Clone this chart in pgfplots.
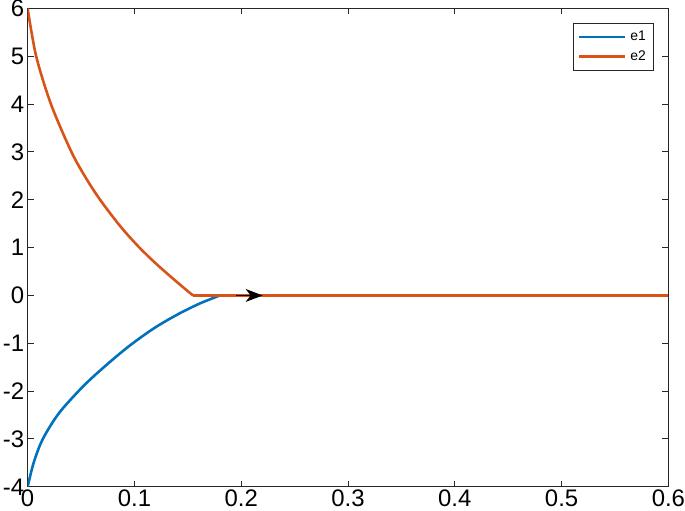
\documentclass[border=0pt]{standalone}
\usepackage{fontspec}
\setmainfont{Liberation Sans}
\usepackage{pgfplots}
\pgfplotsset{compat=1.18}
\usetikzlibrary{arrows.meta}
\definecolor{mblue}{RGB}{0,114,189}
\definecolor{morange}{RGB}{217,83,25}
\definecolor{maxis}{RGB}{38,38,38}

\begin{document}
\begin{tikzpicture}
\begin{axis}[
  scale only axis,
  width=321.5pt, height=240pt,
  xmin=0, xmax=0.6, ymin=-4, ymax=6,
  xtick={0,0.1,...,0.6},
  ytick={-4,-3,...,6},
  xticklabels={0,0.1,0.2,0.3,0.4,0.5,0.6},
  yticklabels={-4,-3,-2,-1,0,1,2,3,4,5,6},
  /pgf/number format/assume math mode=true,
  tick label style={font=\fontsize{12}{14}\selectfont, text=black},
  yticklabel style={inner xsep=1.5pt, inner ysep=0pt},
  xticklabel style={inner ysep=1.5pt, inner xsep=0pt},
  tick align=inside,
  major tick length=3pt,
  axis line style={maxis, line width=0.5pt},
  every tick/.style={maxis, line width=0.5pt},
  legend style={at={(rel axis cs:0.978,0.969)}, anchor=north east,
    font=\fontsize{7}{8}\selectfont, draw=maxis, line width=0.5pt,
    inner xsep=2pt, inner ysep=1.5pt, row sep=-0.5pt},
  legend cell align=left,
  legend image code/.code={\draw[#1] (0pt,0pt) -- (23pt,0pt);},
]
\addplot[mblue, line width=1.3pt, smooth] coordinates {
  (0,-4) (0.0056,-3.5) (0.014,-3.01) (0.029,-2.47) (0.050,-1.945) (0.0683,-1.56)
  (0.0932,-1.09) (0.118,-0.69) (0.141,-0.39) (0.161,-0.17) (0.180,0)
};
\addlegendentry{e1}
\addplot[mblue, line width=1.3pt, forget plot] coordinates {(0.180,0) (0.6,0)};
\addplot[morange, line width=1.3pt, smooth] coordinates {
  (0,6) (0.008,5) (0.022,3.99) (0.041,3.0) (0.055,2.44) (0.0685,1.98) (0.087,1.44)
  (0.103,1.04) (0.118,0.71) (0.1336,0.40) (0.149,0.107) (0.155,0)
};
\addlegendentry{e2}
\addplot[morange, line width=1.3pt, forget plot] coordinates {(0.155,0) (0.6,0)};
\addplot[black, line width=0.5pt, forget plot,
  -{Stealth[length=8.5pt, width=6.5pt, inset=2.5pt]},
  quiver={u=\thisrow{u}, v=\thisrow{v}}] table {
x y u v
0.195 0 0.025 0
};
\end{axis}
\end{tikzpicture}
\end{document}
